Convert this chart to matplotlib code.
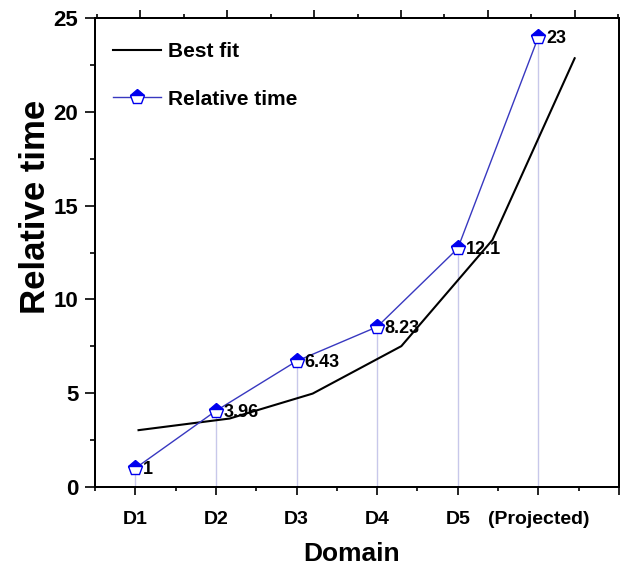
import numpy as np
import matplotlib
matplotlib.use("Agg")
import matplotlib.pyplot as plt
from matplotlib.ticker import MultipleLocator

plt.rcParams['font.family'] = ['Liberation Sans', 'DejaVu Sans']
plt.rcParams['font.weight'] = 'bold'

# datos
domains = ["D1", "D2", "D3", "D4", "D5", "(Projected)"]
x_pos = [1, 2, 3, 4, 5, 6]
rel_time = [1.0, 4.06, 6.71, 8.54, 12.72, 24.0]
rel_labels = ["1", "3.96", "6.43", "8.23", "12.1", "23"]

# curva de ajuste (vertices de la poligonal)
fit_x = [1.04, 2.17, 3.2, 4.3, 5.43, 6.45]
fit_y = [3.03, 3.65, 4.98, 7.51, 13.17, 22.86]

fig = plt.figure(figsize=(6.25, 5.66), dpi=100)
ax = fig.add_axes([0.152, 0.1396, 0.8384, 0.8284])

# lineas verticales hasta el eje
ax.vlines(x_pos, 0, rel_time, color="#c8c8ea", lw=1, zorder=1)

ax.plot(fit_x, fit_y, color="black", lw=1.5, label="Best fit", zorder=2)
ax.plot(x_pos, rel_time, color="#3838c0", lw=1, marker="p", ms=11,
        fillstyle="top", markerfacecolor="#0000ee", markerfacecoloralt="white",
        markeredgecolor="#0000ee", markeredgewidth=1, label="Relative time", zorder=3)

for xi, yi, lab in zip(x_pos, rel_time, rel_labels):
    ax.annotate(lab, (xi, yi), xytext=(5.5, -1), textcoords="offset points",
                ha="left", va="center", fontsize=13, fontweight="bold")

ax.set_xlim(0.5, 7.0)
ax.set_ylim(0, 25)
ax.xaxis.set_minor_locator(MultipleLocator(0.5))
ax.set_xticks([1, 2, 3, 4, 5, 6, 7])
ax.set_xticklabels(domains + [""])
ax.yaxis.set_major_locator(MultipleLocator(5))
ax.yaxis.set_minor_locator(MultipleLocator(2.5))

ax.tick_params(axis="x", which="major", direction="out", length=6, width=1.2, labelsize=14, pad=11)
ax.tick_params(axis="x", which="minor", direction="out", length=3, width=1.2)
ax.tick_params(axis="y", which="major", direction="out", length=7, width=1.2, labelsize=16, pad=5)
ax.tick_params(axis="y", which="minor", direction="out", length=3.5, width=1.2)
for s in ax.spines.values():
    s.set_linewidth(1.4)

ax.set_xlabel("Domain", fontsize=19, fontweight="bold")
ax.xaxis.set_label_coords(0.49, -0.117)
ax.set_ylabel("Relative time", fontsize=25, fontweight="bold")
ax.yaxis.set_label_coords(-0.083, 0.597)

# eje superior con sus propias marcas
top = ax.twiny()
top.set_xlim(-0.523, 5.511)
top.xaxis.set_major_locator(MultipleLocator(1))
top.xaxis.set_minor_locator(MultipleLocator(0.5))
top.tick_params(axis="x", which="major", direction="out", length=6, width=1.2, labeltop=False)
top.tick_params(axis="x", which="minor", direction="out", length=3, width=1.2)
for s in top.spines.values():
    s.set_linewidth(1.4)

leg = ax.legend(loc="upper left", bbox_to_anchor=(0.035, 0.948), frameon=False,
                fontsize=15, handlelength=2.3, handletextpad=0.3, labelspacing=1.35,
                borderaxespad=0, borderpad=0)
for t in leg.get_texts():
    t.set_fontweight("bold")

fig.savefig("out.png", dpi=100)
